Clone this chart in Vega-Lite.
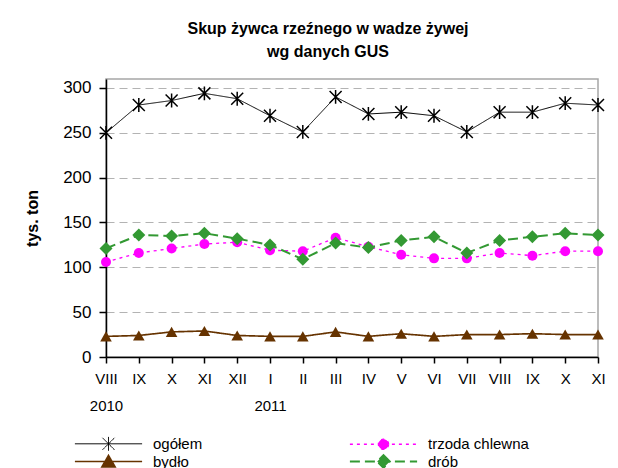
{
  "$schema": "https://vega.github.io/schema/vega-lite/v6.json",
  "width": 492,
  "height": 278,
  "autosize": {"type": "none"},
  "padding": {"left": 106, "top": 79, "right": 20, "bottom": 111},
  "background": "white",
  "config": {
    "font": "Liberation Sans",
    "view": {"stroke": "#a6a6a6", "strokeWidth": 1.5}
  },
  "title": {
    "text": ["Skup żywca rzeźnego w wadze żywej", "wg danych GUS"],
    "fontSize": 16,
    "fontWeight": "bold",
    "font": "Liberation Sans",
    "color": "black",
    "anchor": "middle",
    "dx": -24,
    "offset": 19,
    "lineHeight": 23
  },
  "data": {
    "values": [
      {"okres": "2010-08", "seria": "ogółem", "wartosc": 250},
      {"okres": "2010-09", "seria": "ogółem", "wartosc": 281},
      {"okres": "2010-10", "seria": "ogółem", "wartosc": 286},
      {"okres": "2010-11", "seria": "ogółem", "wartosc": 294},
      {"okres": "2010-12", "seria": "ogółem", "wartosc": 288},
      {"okres": "2011-01", "seria": "ogółem", "wartosc": 269},
      {"okres": "2011-02", "seria": "ogółem", "wartosc": 251},
      {"okres": "2011-03", "seria": "ogółem", "wartosc": 290},
      {"okres": "2011-04", "seria": "ogółem", "wartosc": 271},
      {"okres": "2011-05", "seria": "ogółem", "wartosc": 273},
      {"okres": "2011-06", "seria": "ogółem", "wartosc": 269},
      {"okres": "2011-07", "seria": "ogółem", "wartosc": 251},
      {"okres": "2011-08", "seria": "ogółem", "wartosc": 273},
      {"okres": "2011-09", "seria": "ogółem", "wartosc": 273},
      {"okres": "2011-10", "seria": "ogółem", "wartosc": 283},
      {"okres": "2011-11", "seria": "ogółem", "wartosc": 281},
      {"okres": "2010-08", "seria": "trzoda chlewna", "wartosc": 106},
      {"okres": "2010-09", "seria": "trzoda chlewna", "wartosc": 116},
      {"okres": "2010-10", "seria": "trzoda chlewna", "wartosc": 121},
      {"okres": "2010-11", "seria": "trzoda chlewna", "wartosc": 126},
      {"okres": "2010-12", "seria": "trzoda chlewna", "wartosc": 128},
      {"okres": "2011-01", "seria": "trzoda chlewna", "wartosc": 119},
      {"okres": "2011-02", "seria": "trzoda chlewna", "wartosc": 118},
      {"okres": "2011-03", "seria": "trzoda chlewna", "wartosc": 133},
      {"okres": "2011-04", "seria": "trzoda chlewna", "wartosc": 123},
      {"okres": "2011-05", "seria": "trzoda chlewna", "wartosc": 114},
      {"okres": "2011-06", "seria": "trzoda chlewna", "wartosc": 110},
      {"okres": "2011-07", "seria": "trzoda chlewna", "wartosc": 110},
      {"okres": "2011-08", "seria": "trzoda chlewna", "wartosc": 116},
      {"okres": "2011-09", "seria": "trzoda chlewna", "wartosc": 113},
      {"okres": "2011-10", "seria": "trzoda chlewna", "wartosc": 118},
      {"okres": "2011-11", "seria": "trzoda chlewna", "wartosc": 118},
      {"okres": "2010-08", "seria": "bydło", "wartosc": 23},
      {"okres": "2010-09", "seria": "bydło", "wartosc": 24},
      {"okres": "2010-10", "seria": "bydło", "wartosc": 28},
      {"okres": "2010-11", "seria": "bydło", "wartosc": 29},
      {"okres": "2010-12", "seria": "bydło", "wartosc": 24},
      {"okres": "2011-01", "seria": "bydło", "wartosc": 23},
      {"okres": "2011-02", "seria": "bydło", "wartosc": 23},
      {"okres": "2011-03", "seria": "bydło", "wartosc": 28},
      {"okres": "2011-04", "seria": "bydło", "wartosc": 23},
      {"okres": "2011-05", "seria": "bydło", "wartosc": 26},
      {"okres": "2011-06", "seria": "bydło", "wartosc": 23},
      {"okres": "2011-07", "seria": "bydło", "wartosc": 25},
      {"okres": "2011-08", "seria": "bydło", "wartosc": 25},
      {"okres": "2011-09", "seria": "bydło", "wartosc": 26},
      {"okres": "2011-10", "seria": "bydło", "wartosc": 25},
      {"okres": "2011-11", "seria": "bydło", "wartosc": 25},
      {"okres": "2010-08", "seria": "drób", "wartosc": 121},
      {"okres": "2010-09", "seria": "drób", "wartosc": 136},
      {"okres": "2010-10", "seria": "drób", "wartosc": 135},
      {"okres": "2010-11", "seria": "drób", "wartosc": 138},
      {"okres": "2010-12", "seria": "drób", "wartosc": 132},
      {"okres": "2011-01", "seria": "drób", "wartosc": 125},
      {"okres": "2011-02", "seria": "drób", "wartosc": 109},
      {"okres": "2011-03", "seria": "drób", "wartosc": 127},
      {"okres": "2011-04", "seria": "drób", "wartosc": 122},
      {"okres": "2011-05", "seria": "drób", "wartosc": 130},
      {"okres": "2011-06", "seria": "drób", "wartosc": 134},
      {"okres": "2011-07", "seria": "drób", "wartosc": 116},
      {"okres": "2011-08", "seria": "drób", "wartosc": 130},
      {"okres": "2011-09", "seria": "drób", "wartosc": 134},
      {"okres": "2011-10", "seria": "drób", "wartosc": 138},
      {"okres": "2011-11", "seria": "drób", "wartosc": 136}
    ]
  },
  "encoding": {
    "x": {
      "field": "okres",
      "type": "ordinal",
      "scale": {"type": "point", "padding": 0},
      "axis": {
        "title": null,
        "labelExpr": "[['I','II','III','IV','V','VI','VII','VIII','IX','X','XI','XII'][toNumber(slice(datum.value,5))-1], (datum.value=='2010-08'||datum.value=='2011-01') ? slice(datum.value,0,4) : '']",
        "labelAngle": 0,
        "labelFontSize": 15,
        "labelColor": "black",
        "labelLineHeight": 27,
        "labelPadding": 8,
        "labelOverlap": false,
        "domainColor": "black",
        "domainWidth": 1.5,
        "tickColor": "black",
        "tickWidth": 1.5,
        "tickSize": 6,
        "grid": false
      }
    },
    "y": {
      "field": "wartosc",
      "type": "quantitative",
      "scale": {"domain": [0, 310], "nice": false},
      "axis": {
        "title": "tys. ton",
        "titleFontSize": 16,
        "titleFontWeight": "bold",
        "titleColor": "black",
        "titlePadding": 22,
        "values": [0, 50, 100, 150, 200, 250, 300],
        "labelFontSize": 17,
        "labelColor": "black",
        "labelPadding": 8,
        "domainColor": "black",
        "domainWidth": 1.5,
        "tickColor": "black",
        "tickWidth": 1.5,
        "tickSize": 7,
        "grid": true,
        "gridColor": "#b3b3b3",
        "gridDash": [8, 5],
        "gridWidth": 1
      }
    },
    "color": {
      "field": "seria",
      "type": "nominal",
      "scale": {
        "domain": ["ogółem", "trzoda chlewna", "bydło", "drób"],
        "range": ["#000000", "#ff00ff", "#663300", "#339933"]
      },
      "legend": {
        "title": null,
        "orient": "none",
        "legendX": -5,
        "legendY": 357,
        "columns": 2,
        "direction": "horizontal",
        "padding": 0,
        "symbolSize": 144,
        "labelFontSize": 15,
        "labelColor": "black",
        "labelOffset": 37,
        "columnPadding": 142,
        "rowPadding": -2,
        "encode": {
          "symbols": {
            "update": {
              "shape": {"signal": "{'ogółem':'M-5.6,0H5.6M-1,-1L1,1M-1,1L1,-1M0,-1.15V1.15','trzoda chlewna':'M-5.6,0H5.6M0.85,0A0.85,0.85 0 1,1 -0.85,0A0.85,0.85 0 1,1 0.85,0Z','bydło':'M-5.6,0H5.6M0,-1L1.1,0.9L-1.1,0.9Z','drób':'M-5.6,0H5.6M0,-1.05L1.05,0L0,1.05L-1.05,0Z'}[datum.value]"},
              "fill": {"signal": "{'ogółem':'transparent','trzoda chlewna':'#ff00ff','bydło':'#663300','drób':'#339933'}[datum.value]"},
              "stroke": {"signal": "{'ogółem':'#000000','trzoda chlewna':'#ff00ff','bydło':'#663300','drób':'#339933'}[datum.value]"},
              "strokeWidth": {"signal": "datum.value=='ogółem' ? 1.2 : 2"},
              "strokeDash": {"signal": "datum.value=='trzoda chlewna' ? [3,4] : (datum.value=='drób' ? [10,6] : [1,0])"},
              "opacity": {"value": 1},
              "fillOpacity": {"value": 1}
            }
          }
        }
      }
    }
  },
  "layer": [
    {
      "mark": {"type": "line"},
      "encoding": {
        "strokeDash": {
          "field": "seria",
          "type": "nominal",
          "scale": {"domain": ["ogółem", "trzoda chlewna", "bydło", "drób"], "range": [[1, 0], [3, 4], [1, 0], [10, 5]]},
          "legend": null
        },
        "strokeWidth": {
          "field": "seria",
          "type": "ordinal",
          "scale": {"domain": ["ogółem", "trzoda chlewna", "bydło", "drób"], "range": [1, 2, 2, 2]},
          "legend": null
        }
      }
    },
    {
      "transform": [{"filter": "datum.seria == 'ogółem'"}],
      "mark": {"type": "point", "filled": false, "shape": "M-1,-1L1,1M-1,1L1,-1M0,-1.15V1.15", "size": 144, "strokeWidth": 1.5, "opacity": 1}
    },
    {
      "transform": [{"filter": "datum.seria != 'ogółem'"}],
      "mark": {"type": "point", "filled": true, "opacity": 1},
      "encoding": {
        "shape": {
          "field": "seria",
          "type": "nominal",
          "scale": {"domain": ["trzoda chlewna", "bydło", "drób"], "range": ["circle", "triangle-up", "diamond"]},
          "legend": null
        },
        "size": {
          "field": "seria",
          "type": "ordinal",
          "scale": {"domain": ["trzoda chlewna", "bydło", "drób"], "range": [100, 169, 144]},
          "legend": null
        }
      }
    }
  ]
}
